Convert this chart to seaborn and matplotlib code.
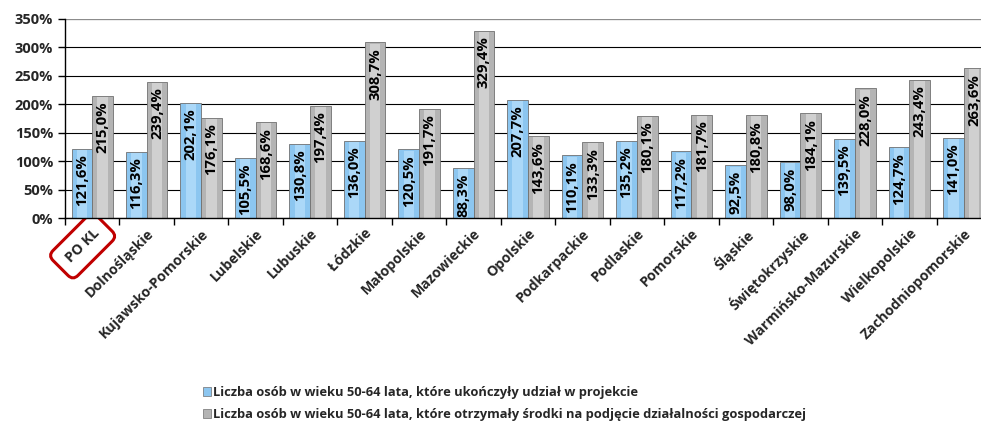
import pandas as pd
import matplotlib
matplotlib.use("Agg")
import matplotlib.pyplot as plt
import seaborn as sns
import numpy as np
from matplotlib.ticker import PercentFormatter, FixedLocator

regions = ["PO KL", "Dolnośląskie", "Kujawsko-Pomorskie", "Lubelskie", "Lubuskie",
           "Łódzkie", "Małopolskie", "Mazowieckie", "Opolskie", "Podkarpackie",
           "Podlaskie", "Pomorskie", "Śląskie", "Świętokrzyskie",
           "Warmińsko-Mazurskie", "Wielkopolskie", "Zachodniopomorskie"]
completed = [121.6, 116.3, 202.1, 105.5, 130.8, 136.0, 120.5, 88.3, 207.7, 110.1,
             135.2, 117.2, 92.5, 98.0, 139.5, 124.7, 141.0]
funds = [215.0, 239.4, 176.1, 168.6, 197.4, 308.7, 191.7, 329.4, 143.6, 133.3,
         180.1, 181.7, 180.8, 184.1, 228.0, 243.4, 263.6]
series = ["Liczba osób w wieku 50-64 lata, które ukończyły udział w projekcie",
          "Liczba osób w wieku 50-64 lata, które otrzymały środki na podjęcie działalności gospodarczej"]

sns.set_theme(style="white")
plt.rcParams['font.family'] = ['Open Sans', 'DejaVu Sans']
plt.rcParams['font.weight'] = 'bold'

df = pd.DataFrame({
    "Region": regions * 2,
    "Value": completed + funds,
    "Series": [series[0]] * len(regions) + [series[1]] * len(regions),
})

fig = plt.figure(figsize=(9.81, 4.25), dpi=100)
ax = fig.add_axes([65 / 981, 1 - 218 / 425, 926 / 981, 199 / 425])

colors = ["#8cc6f0", "#b4b4b4"]
sns.barplot(data=df, x="Region", y="Value", hue="Series", palette=colors,
            width=0.76, ax=ax, edgecolor="#707070", linewidth=0.6, saturation=1)

# lighter centre strip to mimic the bevelled bars
for cont, hl in zip(ax.containers, ["#b9e1fc", "#dcdcdc"]):
    for bar in cont:
        x, w, h = bar.get_x(), bar.get_width(), bar.get_height()
        ax.bar(x + w * 0.5, h - 2, width=w * 0.5, bottom=0, color=hl,
               linewidth=0, zorder=bar.get_zorder() + 0.1, alpha=0.7)

for cont in ax.containers[:2]:
    labels = [f"{v:.1f}%".replace(".", ",") for v in cont.datavalues]
    ax.bar_label(cont, labels=labels, label_type="edge", padding=-4, rotation=90,
                 fontsize=10.7, fontweight="bold", color="black")
for t in ax.texts:
    t.set_va("top")

ax.set_ylim(0, 350)
ax.set_xlim(-0.5, len(regions) - 0.5)
ax.yaxis.set_major_formatter(PercentFormatter(decimals=0))
ax.set_yticks(np.arange(0, 351, 50))
ax.grid(axis="y", color="black", linewidth=0.8)
ax.set_axisbelow(True)
for s in ["right", "top"]:
    ax.spines[s].set_visible(False)
ax.spines["left"].set_color("black")
ax.spines["bottom"].set_color("black")
ax.spines["left"].set_linewidth(1.0)
ax.spines["bottom"].set_linewidth(1.0)
ax.axhline(350, color="#8c8c8c", linewidth=1.5)

ax.tick_params(axis="y", which="major", left=True, length=5, width=1, color="black",
               labelsize=10.5)
ax.xaxis.set_minor_locator(FixedLocator(np.arange(-0.5, len(regions), 1)))
ax.tick_params(axis="x", which="major", length=0, labelsize=10.2, pad=6)
ax.tick_params(axis="x", which="minor", bottom=True, length=5, width=1, color="black")
ax.set_xticks(range(len(regions)))
ax.set_xticklabels(regions, rotation=45, ha="right", rotation_mode="anchor",
                   fontweight="bold")
for lab in ax.get_yticklabels():
    lab.set_fontweight("bold")
ax.get_xticklabels()[0].set_bbox(dict(boxstyle="round,pad=0.75,rounding_size=0.5",
                                      facecolor="none", edgecolor="#c00000",
                                      linewidth=2.2))
ax.set_xlabel("")
ax.set_ylabel("")

ax.legend_.remove()
handles = [plt.Rectangle((0, 0), 1, 1, facecolor=c, edgecolor="#6f6f6f", linewidth=0.5)
           for c in colors]
fig.legend(handles, series, loc="upper left", bbox_to_anchor=(203 / 981, 1 - 386 / 425),
           frameon=False, ncol=1, prop={"size": 9.3, "weight": "bold"},
           handlelength=0.6, handleheight=0.6, handletextpad=0.2, labelspacing=0.7,
           borderpad=0, borderaxespad=0)

fig.savefig("out.png", dpi=100)
